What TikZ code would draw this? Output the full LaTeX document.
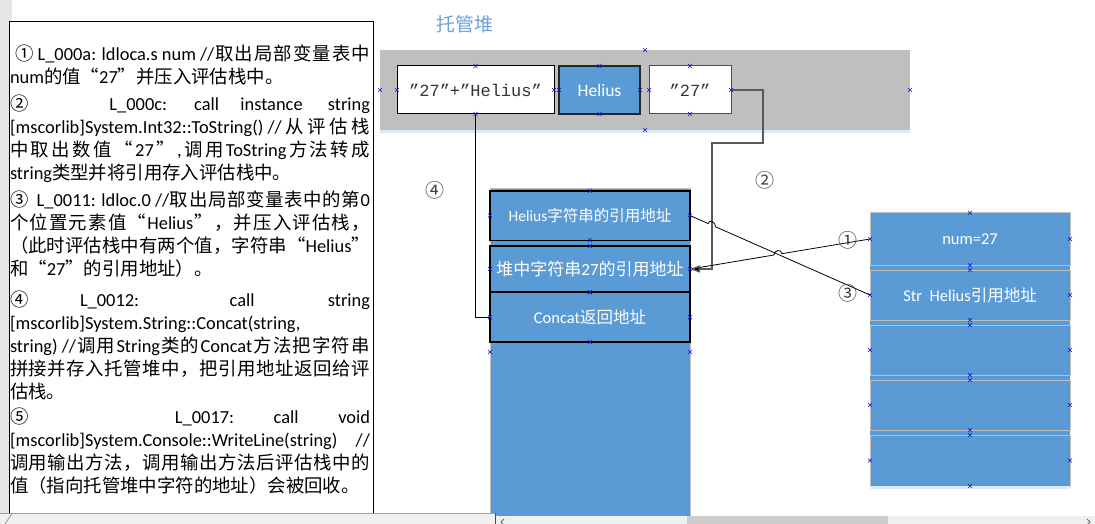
\documentclass[tikz,border=0pt]{standalone}
\usepackage{fontspec}
\setmainfont{Carlito}
\newfontfamily\latf{Carlito}
\newfontfamily\cjkf[RawFeature=+fwid]{Noto Sans CJK SC}
\newfontfamily\monof{Liberation Mono}
\usetikzlibrary{arrows.meta,calc}
\XeTeXinterchartokenstate=1
\newXeTeXintercharclass\CJKcls
\newcount\mycc
\def\setcls#1#2{\mycc=#1\relax\loop\XeTeXcharclass\mycc=\CJKcls\relax\advance\mycc by 1\relax\ifnum\mycc<#2\relax\repeat}
\setcls{"4E00}{"A000}
\setcls{"3000}{"3040}
\setcls{"FF00}{"FFF0}
\setcls{"2460}{"2474}
\XeTeXcharclass"201C=\CJKcls
\XeTeXcharclass"201D=\CJKcls
\def\cjkglue{\hskip0pt plus 1fil minus .3pt\relax}
\XeTeXinterchartoks 0 \CJKcls = {\cjkf\cjkglue}
\XeTeXinterchartoks 4095 \CJKcls = {\cjkf}
\XeTeXinterchartoks \CJKcls 0 = {\latf\cjkglue}
\XeTeXinterchartoks \CJKcls 4095 = {\latf}
\XeTeXinterchartoks \CJKcls \CJKcls = {\cjkglue}
\definecolor{bl}{HTML}{5B9BD5}
\definecolor{lg}{HTML}{BFBFBF}
\definecolor{heapgray}{HTML}{BFBFBF}
\definecolor{titlec}{HTML}{6AA3D8}
\definecolor{shd}{HTML}{DCE9F6}
\definecolor{stripc}{HTML}{E6E6E6}
\definecolor{sbc}{HTML}{F0F0F0}
\definecolor{thumbc}{HTML}{CDCDCD}
\definecolor{xmc}{HTML}{1010D0}
\newlength\W \setlength\W{360pt}
\newcommand\J[1]{\hbox to\W{#1}}
\newcommand\G[1]{\hskip 4pt plus #1fil\relax}
\newcommand\xm[1]{\draw[xmkst] ($(#1)+(-2,-2)$) -- +(4,4) ($(#1)+(-2,2)$) -- +(4,-4);}
\begin{document}
\begin{tikzpicture}[x=1pt,y=-1pt,
  every node/.style={inner sep=0pt,outer sep=0pt},
  txt/.style={anchor=base west,font=\fontsize{18.4}{23}\selectfont},
  midbox/.style={fill=bl,draw=black,line width=1.5pt,minimum width=200pt,text=white},
  cell/.style={fill=bl,draw=lg,line width=1pt,minimum width=200pt,text=white,font=\fontsize{16.5}{18}\selectfont},
  strbox/.style={draw=black,fill=white,line width=1pt,minimum height=48pt,text=black!80,
    font={\XeTeXinterchartokenstate=0 \monof\fontsize{17}{20}\selectfont}},
  lab/.style={text=black!75,font=\fontsize{19}{20}\selectfont},
  cn/.style={draw=black,line width=0.8pt},
  xmkst/.style={draw=xmc,line width=0.6pt}]
\useasboundingbox (0,0) rectangle (1095,524);
\fill[white] (0,0) rectangle (1095,524);
% left strip and text box
\fill[stripc] (0,0) rectangle (12,513);
\node[draw=black,line width=1pt,fill=white,minimum width=364pt,minimum height=491pt,anchor=north west] (tbox) at (9,22) {};
\node[txt] (l1) at (10,60.5) {\J{\hspace{5pt}①\ L\_000a: ldloca.s num //取出局部变量表中}};
\node[txt] (l2) at (10,83.5) {\hbox{num的值“27”并压入评估栈中。}};
\node[txt] (l3) at (10,110.5) {\J{②\G{4}L\_000c:\G{1.2}call\G{0.9}instance\G{1.1}string}};
\node[txt] (l4) at (10,133.5) {\J{[mscorlib]System.Int32::ToString() //从评估栈}};
\node[txt] (l5) at (10,156.5) {\J{中取出数值“27”,调用ToString方法转成}};
\node[txt] (l6) at (10,179.5) {\hbox{string类型并将引用存入评估栈中。}};
\node[txt] (l7) at (10,206.5) {\J{③\ \ L\_0011: ldloc.0 //取出局部变量表中的第0}};
\node[txt] (l8) at (10,229.5) {\J{个位置元素值“Helius”，并压入评估栈，}};
\node[txt] (l9) at (10,252.5) {\J{（此时评估栈中有两个值，字符串“Helius”}};
\node[txt] (l10) at (10,275.5) {\hbox{和“27”的引用地址）。}};
\node[txt] (l11) at (10,306.5) {\J{④\G{1.1}L\_0012:\G{2}call\G{1.6}string}};
\node[txt] (l12) at (10,329.5) {\hbox{[mscorlib]System.String::Concat(string,}};
\node[txt] (l13) at (10,352.5) {\J{string) //调用String类的Concat方法把字符串}};
\node[txt] (l14) at (10,375.5) {\J{拼接并存入托管堆中，把引用地址返回给评}};
\node[txt] (l15) at (10,398.5) {\hbox{估栈。}};
\node[txt] (l16) at (10,423.5) {\J{⑤\G{4}L\_0017:\G{1}call\G{1}void}};
\node[txt] (l17) at (10,446.5) {\J{[mscorlib]System.Console::WriteLine(string) //}};
\node[txt] (l18) at (10,469.5) {\J{调用输出方法，调用输出方法后评估栈中的}};
\node[txt] (l19) at (10,492.5) {\hbox{值（指向托管堆中字符的地址）会被回收。}};
% managed heap
\node[text=titlec,font=\fontsize{19}{20}\selectfont] (title) at (465,24) {托管堆};
\node[fill=heapgray,minimum width=530pt,minimum height=80pt] (heap) at (645,90) {};
\fill[shd] (heap.south west) rectangle ($(heap.south east)+(0,3)$);
\node[strbox,minimum width=157pt] (s1) at (475.5,90) {”27”+”Helius”};
\node[fill=bl,draw=black!85,line width=1.5pt,minimum width=81pt,minimum height=48pt,text=white,font=\fontsize{17.5}{20}\selectfont] (hel) at (599.5,90) {Helius};
\node[strbox,draw=black!70,minimum width=82pt] (s27) at (690,90) {”27”};
% evaluation stack (middle)
\node[fill=bl,draw=lg,line width=1pt,minimum width=200pt,minimum height=328pt] (col) at (590,352) {};
\node[midbox,minimum height=49.5pt,font=\fontsize{15.5}{18}\selectfont] (A) at (590,215.5) {Helius字符串的引用地址};
\node[midbox,minimum height=46pt,font=\fontsize{17}{18}\selectfont] (B) at (590,269) {堆中字符串27的引用地址};
\node[midbox,minimum height=49.5pt,font=\fontsize{16.5}{18}\selectfont] (C) at (590,317.3) {Concat返回地址};
% local variable table (right)
\fill[bl] (870,212.7) rectangle (1070,486);
\node[cell,minimum height=52.5pt] (R1) at (970,239) {num=27};
\node[cell,minimum height=50pt] (R2) at (970,295) {Str\ \ Helius引用地址};
\node[cell,minimum height=50pt] (R3) at (970,350) {};
\node[cell,minimum height=50pt] (R4) at (970,405) {};
\node[cell,minimum height=51pt] (R5) at (970,460.5) {};
\fill[shd] (R5.south west) rectangle ($(R5.south east)+(0,3)$);
% connectors
\draw[draw=black,line width=1pt] (s1.south) |- (C.west);
\coordinate (k1) at (763,143);
\coordinate (k2) at (712,143);
\draw[draw=black!65,line width=1.3pt,-{Triangle[length=10pt,width=7pt,fill=black]}] (s27.east) -| (k1) -- (k2) |- (B.east);
\coordinate (X3) at ($(A.east)!0.1222!(R2.west)$);
\draw[cn] (A.east) -- ($(X3)!4pt!(A.east)$) .. controls +(0,-5) and +(0,-5) .. ($(X3)!4pt!(R2.west)$) -- (R2.west);
\coordinate (X1) at ($(R1.west)!0.512!(B.east)$);
\draw[cn] (R1.west) -- ($(X1)!4pt!(R1.west)$) .. controls +(0,-5) and +(0,-5) .. ($(X1)!4pt!(B.east)$) -- ($(B.east)+(10,-1.6)$);
\node[lab] (n1) at (848,240) {①};
\node[lab] (n2) at (765,180) {②};
\node[lab] (n3) at (848,293) {③};
\node[lab] (n4) at (435,190) {④};
% connection point markers
\foreach \n in {heap,s1,hel,s27,A,B,C,R1,R2,R3,R4,R5}{
  \xm{\n.north}\xm{\n.south}\xm{\n.west}\xm{\n.east}}
\xm{col.west}\xm{col.east}
% window chrome
\fill[sbc] (0,513) rectangle (495,524);
\draw[draw=black!35!blue!40,line width=0.8pt] (0,513.4) -- (495,513.4);
\draw[draw=black!50,line width=0.6pt] (12,513.4) -- (5,524);
\fill[sbc] (495,516) rectangle (1095,524);
\fill[thumbc] (687,516) rectangle (888,524);
\draw[draw=black!70,line width=0.8pt] (495.5,513) -- (495.5,524);
\draw[draw=black!60,line width=0.8pt] (504,519) -- (501,522) -- (504,525);
\draw[draw=black!60,line width=0.8pt] (1087,519) -- (1090,522) -- (1087,525);
\end{tikzpicture}
\end{document}
